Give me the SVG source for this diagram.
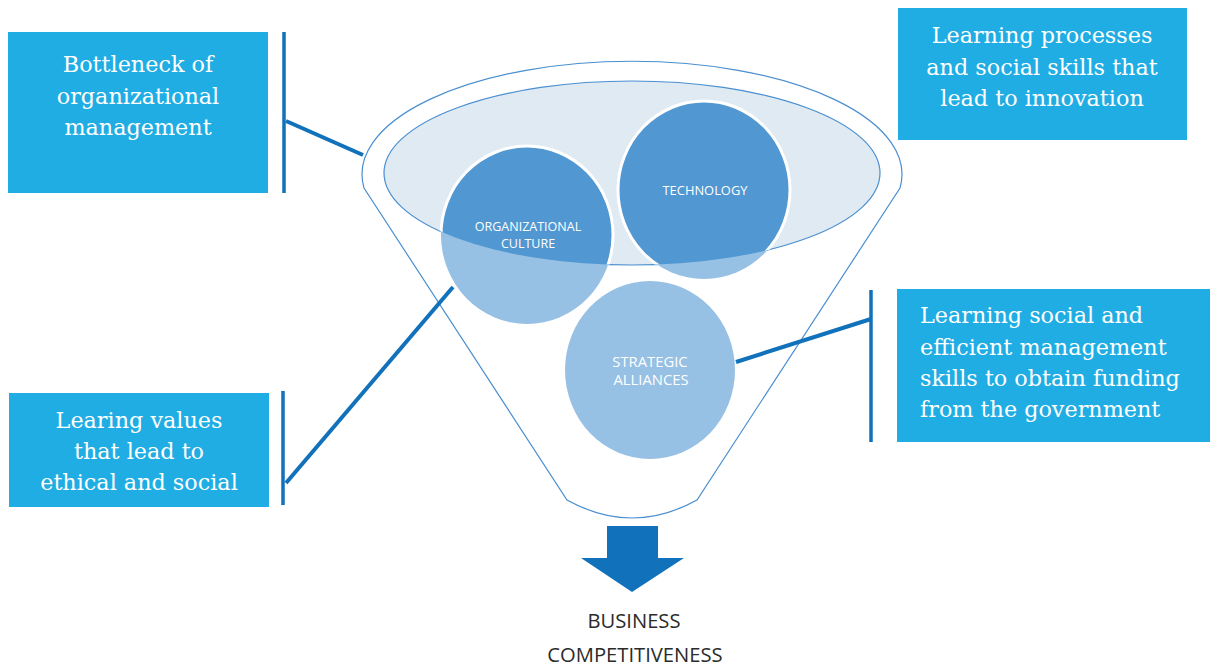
<svg xmlns="http://www.w3.org/2000/svg" width="1210" height="667" viewBox="0 0 1210 667">
<style>
.box{fill:#1fade3}
.bt{font-family:"DejaVu Serif",serif;font-size:22.3px;fill:#ffffff}
.bar{stroke:#1172bb;stroke-width:3.5;fill:none}
.conn{stroke:#1172bb;stroke-width:4;fill:none}
.ct{font-family:"Open Sans","Noto Sans",sans-serif;fill:#ffffff;text-anchor:middle}
.funnel{fill:none;stroke:#4a8fd0;stroke-width:1.2}
</style>
<defs>
<clipPath id="innerClip"><ellipse cx="632" cy="173" rx="248" ry="92"/></clipPath>
</defs>
<g id="funnel">
<path class="funnel" d="M364,188 A270,113 0 1 1 900,188 L697,500 Q632,536 567,500 Z"/>
<ellipse cx="632" cy="173" rx="248" ry="92" fill="#e0eaf3" stroke="#4a8fd0" stroke-width="1.2"/>
</g>
<g id="organizational-culture">
<ellipse cx="527" cy="235" rx="86" ry="89" fill="#96c0e4"/>
<ellipse cx="527" cy="235" rx="86" ry="89" fill="#5197d1" stroke="#ffffff" stroke-width="3" clip-path="url(#innerClip)"/>
<text class="ct" font-size="12.5"><tspan x="528" y="231">ORGANIZATIONAL</tspan><tspan x="528" y="248">CULTURE</tspan></text>
</g>
<g id="technology">
<ellipse cx="704" cy="190" rx="86" ry="89" fill="#96c0e4"/>
<ellipse cx="704" cy="190" rx="86" ry="89" fill="#5197d1" stroke="#ffffff" stroke-width="3" clip-path="url(#innerClip)"/>
<text class="ct" font-size="12.9" x="705" y="195">TECHNOLOGY</text>
</g>
<g id="strategic-alliances">
<ellipse cx="650" cy="370" rx="85" ry="89" fill="#96c0e4"/>
<text class="ct" font-size="14.8"><tspan x="650" y="367">STRATEGIC</tspan><tspan x="651" y="385">ALLIANCES</tspan></text>
</g>
<g id="box-bottleneck">
<rect class="box" x="8" y="32" width="260" height="161"/>
<text class="bt" text-anchor="middle" x="138" y="72">Bottleneck of</text>
<text class="bt" text-anchor="middle" x="138" y="104">organizational</text>
<text class="bt" text-anchor="middle" x="138" y="135">management</text>
</g>
<g id="box-learning-processes">
<rect class="box" x="898" y="8" width="289" height="132"/>
<text class="bt" text-anchor="middle" x="1042" y="43">Learning processes</text>
<text class="bt" text-anchor="middle" x="1042" y="75">and social skills that</text>
<text class="bt" text-anchor="middle" x="1042" y="106">lead to innovation</text>
</g>
<g id="box-learing-values">
<rect class="box" x="9" y="393" width="260" height="114"/>
<text class="bt" text-anchor="middle" x="139" y="428">Learing values</text>
<text class="bt" text-anchor="middle" x="139" y="459">that lead to</text>
<text class="bt" text-anchor="middle" x="139" y="490">ethical and social</text>
</g>
<g id="box-learning-social">
<rect class="box" x="897" y="289" width="313" height="153"/>
<text class="bt" x="920" y="323">Learning social and</text>
<text class="bt" x="920" y="355">efficient management</text>
<text class="bt" x="920" y="386">skills to obtain funding</text>
<text class="bt" x="920" y="417">from the government</text>
</g>
<g id="connectors">
<line class="bar" x1="284" y1="32" x2="284" y2="193"/>
<line class="conn" x1="286" y1="121" x2="363" y2="155"/>
<line class="bar" x1="283" y1="391" x2="283" y2="505"/>
<line class="conn" x1="286" y1="483" x2="453" y2="287"/>
<line class="bar" x1="871" y1="290" x2="871" y2="442"/>
<line class="conn" x1="736" y1="362" x2="871" y2="319"/>
</g>
<g id="output-arrow">
<path d="M607,526 H658 V558 H684 L632,592 L581,558 H607 Z" fill="#1172bb"/>
</g>
<g id="business-competitiveness">
<text font-family="'Open Sans','Noto Sans',sans-serif" font-size="20.2" fill="#2b2b2b" text-anchor="middle" x="634" y="628">BUSINESS</text>
<text font-family="'Open Sans','Noto Sans',sans-serif" font-size="20.2" fill="#2b2b2b" text-anchor="middle" x="635" y="662">COMPETITIVENESS</text>
</g>
</svg>
